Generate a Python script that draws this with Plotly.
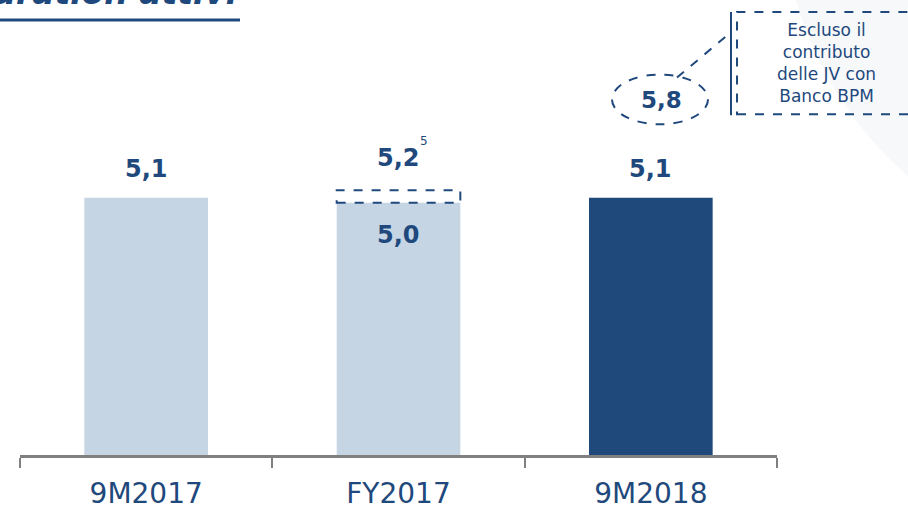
import plotly.graph_objects as go

W, H = 908, 510

categories = ["9M2017", "FY2017", "9M2018"]
values = [5.1, 5.0, 5.1]
value_labels = ["5,1", "5,0", "5,1"]
adjusted_value = 5.2
adjusted_label = "5,2"
adjusted_note = "5"
excl_value_label = "5,8"
excl_note = "Escluso il<br>contributo<br>delle JV con<br>Banco BPM"
title = "Duration attivi"

DARK = "#1F497D"
LIGHT = "#C6D5E4"
BAR_DARK = "#1F497A"
FONT = "DejaVu Sans"


def px(x):
    return x / W


def py(y):
    return 1 - y / H


fig = go.Figure()

fig.add_trace(
    go.Bar(
        x=categories,
        y=values,
        width=0.49,
        marker=dict(color=[LIGHT, LIGHT, BAR_DARK], line=dict(width=0)),
        hoverinfo="skip",
    )
)

label_font = dict(family=FONT, size=24, color=DARK)
annotations = []
# value labels above first and last bar
for i in (0, 2):
    annotations.append(
        dict(x=categories[i], y=values[i], xref="x", yref="y", yanchor="bottom",
             yshift=13, text=f"<b>{value_labels[i]}</b>", showarrow=False,
             font=label_font)
    )
# FY2017: value inside, adjusted value above
annotations.append(
    dict(x=1, y=values[1], xref="x", yref="y", yanchor="top", yshift=-16,
         text=f"<b>{value_labels[1]}</b>", showarrow=False, font=label_font)
)
annotations.append(
    dict(x=1, y=adjusted_value, xref="x", yref="y", yanchor="bottom", yshift=19,
         text=f"<b>{adjusted_label}</b>", showarrow=False, font=label_font)
)
annotations.append(
    dict(x=px(424), y=py(142), xref="paper", yref="paper", xanchor="center",
         yanchor="middle", text=adjusted_note, showarrow=False,
         font=dict(family=FONT, size=12, color=DARK))
)
annotations.append(
    dict(x=px(661), y=py(101), xref="paper", yref="paper", xanchor="center",
         yanchor="middle", text=f"<b>{excl_value_label}</b>", showarrow=False,
         font=dict(family=FONT, size=23, color=DARK))
)
annotations.append(
    dict(x=px(826), y=py(63), xref="paper", yref="paper", xanchor="center",
         yanchor="middle", text=excl_note, showarrow=False, align="center",
         font=dict(family=FONT, size=17, color=DARK))
)
annotations.append(
    dict(x=px(240), y=py(14), xref="paper", yref="paper", xanchor="right",
         yanchor="bottom", text=f"<b><i>{title}</i></b>", showarrow=False,
         font=dict(family=FONT, size=33, color=DARK))
)

shapes = [
    # faint background arc
    dict(type="circle", xref="paper", yref="paper",
         x0=px(1150 - 368), x1=px(1150 + 368), y0=py(-100 + 368), y1=py(-100 - 368),
         fillcolor="#F7F8FA", line=dict(width=0), layer="below"),
    # title underline
    dict(type="line", xref="paper", yref="paper", x0=0, x1=px(240), y0=py(20), y1=py(20),
         line=dict(color=DARK, width=3)),
    # dashed box for adjusted FY2017 value
    dict(type="rect", xref="x", yref="y", x0=1 - 0.245, x1=1 + 0.245,
         y0=values[1], y1=adjusted_value + 0.05,
         line=dict(color=DARK, width=2, dash="dash")),
    # dashed ellipse around 5,8
    dict(type="circle", xref="paper", yref="paper", x0=px(612), x1=px(708),
         y0=py(125), y1=py(75), line=dict(color=DARK, width=2, dash="dash")),
    # connector
    dict(type="line", xref="paper", yref="paper", x0=px(677), x1=px(729),
         y0=py(78), y1=py(34), line=dict(color=DARK, width=2, dash="dash")),
    # note box
    dict(type="line", xref="paper", yref="paper", x0=px(731), x1=px(731),
         y0=py(12), y1=py(116), line=dict(color=DARK, width=2)),
    dict(type="rect", xref="paper", yref="paper", x0=px(737), x1=px(915),
         y0=py(115), y1=py(12), line=dict(color=DARK, width=2, dash="dash")),
]

fig.update_layout(
    width=W,
    height=H,
    margin=dict(l=0, r=0, t=0, b=0),
    paper_bgcolor="white",
    plot_bgcolor="rgba(0,0,0,0)",
    showlegend=False,
    xaxis=dict(
        domain=[px(20), px(777)],
        type="category",
        range=[-0.5, 2.5],
        showline=True,
        linecolor="#808080",
        linewidth=2.5,
        ticks="outside",
        tickson="boundaries",
        ticklen=10,
        tickwidth=1.5,
        tickcolor="#808080",
        showgrid=False,
        ticklabelstandoff=11,
        tickfont=dict(family=FONT, size=28, color=DARK),
        fixedrange=True,
    ),
    yaxis=dict(
        domain=[py(458), 1],
        range=[0, 458 / 50.8],
        visible=False,
        fixedrange=True,
    ),
    annotations=annotations,
    shapes=shapes,
)

fig.write_html(
    "out.html",
    config={"displayModeBar": False},
    post_script="document.body.style.margin = '0';",
)
